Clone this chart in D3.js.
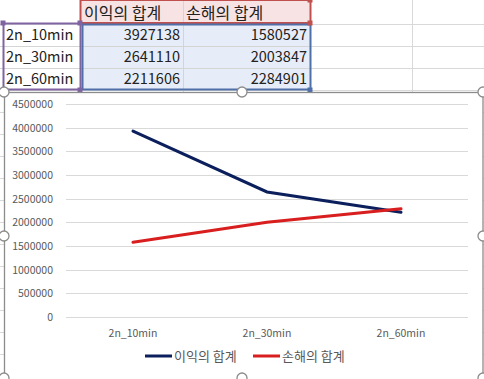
<!DOCTYPE html>
<html><head><meta charset="utf-8">
<script src="https://cdn.jsdelivr.net/npm/d3@7/dist/d3.min.js"></script>
<style>
html,body{margin:0;padding:0;background:#fff;}
svg{display:block;font-family:"Noto Sans CJK KR","Noto Sans",sans-serif;}
</style></head>
<body><svg id="c" width="484" height="379"></svg>
<script>
const categories = ["2n_10min", "2n_30min", "2n_60min"];
const seriesNames = ["이익의 합계", "손해의 합계"];
const profit = [3927138, 2641110, 2211606];
const loss = [1580527, 2003847, 2284901];
const yTicks = [0, 500000, 1000000, 1500000, 2000000, 2500000, 3000000, 3500000, 4000000, 4500000];
const seriesColors = ["#0b1f5c", "#d81e1e"];

const svg = d3.select("#c");

// --- spreadsheet background grid ---
const grid = svg.append("g");
const rowLines = d3.range(24, 380, 22);
rowLines.forEach(y => grid.append("line").attr("x1", 0).attr("x2", 484).attr("y1", y + 0.5).attr("y2", y + 0.5).attr("stroke", "#d9d9d9"));
[80, 183, 310, 412].forEach(x => grid.append("line").attr("x1", x + 0.5).attr("x2", x + 0.5).attr("y1", 0).attr("y2", 92).attr("stroke", "#d9d9d9"));

// selection fills
svg.append("rect").attr("x", 81).attr("y", 1).attr("width", 229).attr("height", 22).attr("fill", "#f7e3e3");
svg.append("rect").attr("x", 81).attr("y", 25).attr("width", 229).attr("height", 64).attr("fill", "#e7edf8");
[183].forEach(x => svg.append("line").attr("x1", x + 0.5).attr("x2", x + 0.5).attr("y1", 0).attr("y2", 90).attr("stroke", "#d4d4d4"));
[46, 68].forEach(y => svg.append("line").attr("x1", 0).attr("x2", 310).attr("y1", y + 0.5).attr("y2", y + 0.5).attr("stroke", "#d4d4d4"));

// selection outlines
svg.append("rect").attr("x", 80.5).attr("y", 0).attr("width", 230).attr("height", 23).attr("fill", "none").attr("stroke", "#c0504d").attr("stroke-width", 2);
svg.append("rect").attr("x", 82.5).attr("y", 24.5).attr("width", 228).attr("height", 65).attr("fill", "none").attr("stroke", "#4f6fa8").attr("stroke-width", 2);
svg.append("rect").attr("x", 3.5).attr("y", 23.5).attr("width", 77).attr("height", 66).attr("fill", "none").attr("stroke", "#8064a2").attr("stroke-width", 2);
[[3,23,"#8064a2"],[80,23,"#8064a2"],[80,90,"#8064a2"],[310,0,"#c0504d"],[310,23,"#c0504d"],[310,90,"#4f6fa8"]].forEach(([x,y,c]) =>
  svg.append("rect").attr("x", x - 2.5).attr("y", y - 2.5).attr("width", 5).attr("height", 5).attr("fill", c));

// cell texts
const cellFont = "14.5px";
seriesNames.forEach((n, i) => svg.append("text").attr("x", i === 0 ? 84 : 186).attr("y", 19).attr("font-size", "16px").attr("fill", "#222").text(n));
categories.forEach((c, i) => {
  const y = 40 + i * 22;
  svg.append("text").attr("x", 6).attr("y", y).attr("font-size", cellFont).attr("fill", "#222").text(c);
  svg.append("text").attr("x", 180).attr("y", y).attr("text-anchor", "end").attr("font-size", cellFont).attr("fill", "#222").text(profit[i]);
  svg.append("text").attr("x", 307).attr("y", y).attr("text-anchor", "end").attr("font-size", cellFont).attr("fill", "#222").text(loss[i]);
});

// --- chart area ---
svg.append("rect").attr("x", 4.5).attr("y", 92.5).attr("width", 478.5).attr("height", 290).attr("fill", "#fff").attr("stroke", "#8c8c8c").attr("stroke-width", 1.3);

const x = d3.scaleBand().domain(categories).range([66, 468]);
const y = d3.scaleLinear().domain([0, 4500000]).range([317, 104]);

const g = svg.append("g");
yTicks.forEach(t => {
  g.append("line").attr("x1", 66).attr("x2", 468).attr("y1", Math.round(y(t)) + 0.5).attr("y2", Math.round(y(t)) + 0.5).attr("stroke", "#d9d9d9");
  g.append("text").attr("x", 53).attr("y", y(t) + 4).attr("text-anchor", "end").attr("font-size", "10.5px").attr("fill", "#595959").text(t);
});
categories.forEach(c => g.append("text").attr("x", x(c) + x.bandwidth() / 2).attr("y", 337).attr("text-anchor", "middle").attr("font-size", "10.5px").attr("fill", "#595959").text(c));

const line = d3.line().x((d, i) => x(categories[i]) + x.bandwidth() / 2).y(d => y(d));
[profit, loss].forEach((s, i) => g.append("path").attr("d", line(s)).attr("fill", "none").attr("stroke", seriesColors[i]).attr("stroke-width", 3).attr("stroke-linecap", "round"));

// legend
const lx = [145, 253];
seriesNames.forEach((n, i) => {
  g.append("line").attr("x1", lx[i]).attr("x2", lx[i] + 27).attr("y1", 356).attr("y2", 356).attr("stroke", seriesColors[i]).attr("stroke-width", 3);
  g.append("text").attr("x", lx[i] + 29).attr("y", 361).attr("font-size", "13px").attr("fill", "#595959").text(n);
});

// chart handles
[[4,92],[242,92],[483,92],[4,236],[483,236],[4,378],[242,378],[483,378]].forEach(([hx,hy]) =>
  svg.append("circle").attr("cx", hx).attr("cy", hy).attr("r", 5).attr("fill", "#fff").attr("stroke", "#8c8c8c").attr("stroke-width", 1.3));
</script></body></html>
